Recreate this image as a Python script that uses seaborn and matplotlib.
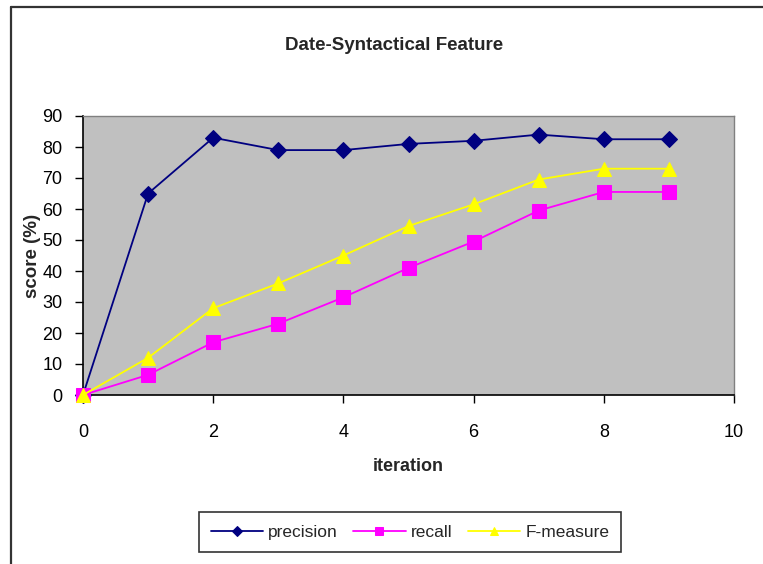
import matplotlib
matplotlib.use("Agg")
import matplotlib.pyplot as plt
import seaborn as sns
import pandas as pd
from matplotlib.lines import Line2D

iterations = [0, 1, 2, 3, 4, 5, 6, 7, 8, 9]
precision = [0, 65, 83, 79, 79, 81, 82, 84, 82.5, 82.5]
recall = [0, 6.5, 17, 23, 31.5, 41, 49.5, 59.5, 65.5, 65.5]
f_measure = [0, 12, 28, 36, 45, 54.5, 61.5, 69.5, 73, 73]
series_names = ["precision", "recall", "F-measure"]

sns.set_style("white")
plt.rcParams["font.family"] = ["Liberation Sans", "DejaVu Sans"]

df = pd.DataFrame({
    "iteration": iterations * 3,
    "score": precision + recall + f_measure,
    "series": [series_names[0]] * 10 + [series_names[1]] * 10 + [series_names[2]] * 10,
})

fig = plt.figure(figsize=(7.63, 5.64), dpi=100)
fig.patch.set_facecolor("white")
# outer frame (left and top edges visible)
fig.add_artist(Line2D([11/763, 11/763], [0, 1 - 7/564], transform=fig.transFigure,
                      color="#333333", lw=1.6))
fig.add_artist(Line2D([11/763, 1], [1 - 7/564, 1 - 7/564], transform=fig.transFigure,
                      color="#333333", lw=1.6))

ax = fig.add_axes([83/763, (564-395)/564, (734-83)/763, (395-116)/564])
ax.set_facecolor("#C0C0C0")

colors = {"precision": "#000080", "recall": "#FF00FF", "F-measure": "#FFFF00"}
markers = {"precision": "D", "recall": "s", "F-measure": "^"}
msize = {"precision": 8, "recall": 10, "F-measure": 10}

for name in series_names:
    sub = df[df["series"] == name]
    sns.lineplot(data=sub, x="iteration", y="score", ax=ax, color=colors[name],
                 marker=markers[name], markersize=msize[name], markeredgecolor=colors[name],
                 lw=1.3, label=name, clip_on=False, zorder=3)

ax.set_xlim(0, 10)
ax.set_ylim(0, 90)
ax.set_xticks(range(0, 11, 2))
ax.set_yticks(range(0, 91, 10))
ax.tick_params(axis="both", labelsize=13, colors="black", width=1)
ax.tick_params(axis="x", direction="out", bottom=True, length=5.8, pad=15)
ax.tick_params(axis="y", direction="out", left=True, length=5.8, pad=9)
for side in ["left", "bottom"]:
    ax.spines[side].set_color("black")
    ax.spines[side].set_linewidth(1.2)
for side in ["top", "right"]:
    ax.spines[side].set_color("#808080")
    ax.spines[side].set_linewidth(1.0)

ax.set_xlabel("iteration", fontsize=13, fontweight="bold", labelpad=12)
ax.set_ylabel("score (%)", fontsize=13.5, fontweight="bold", labelpad=1)
fig.text(394/763, 1 - 46/564, "Date-Syntactical Feature", ha="center", va="center",
         fontsize=13.5, fontweight="bold")

leg = ax.legend(loc="center", bbox_to_anchor=(410/763, 1 - 532/564),
                bbox_transform=fig.transFigure, ncol=3, frameon=True, fancybox=False,
                fontsize=12.5, handlelength=3.0, columnspacing=0.9, handletextpad=0.3,
                borderpad=0.7, markerscale=0.6)
leg.get_frame().set_edgecolor("black")
leg.get_frame().set_linewidth(1.2)

fig.savefig("out.png", dpi=100)
